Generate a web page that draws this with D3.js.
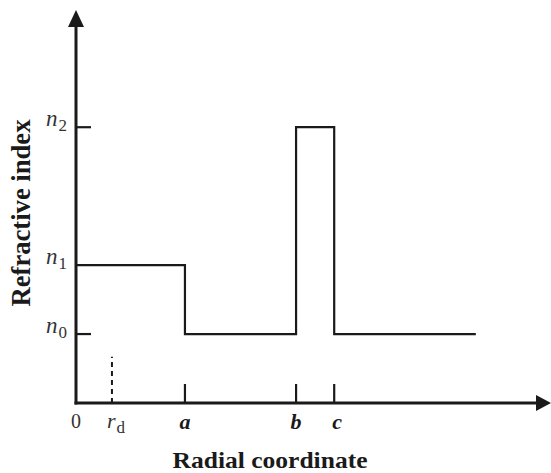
<!DOCTYPE html>
<html>
<head>
<meta charset="utf-8">
<script src="https://cdn.jsdelivr.net/npm/d3@7/dist/d3.min.js"></script>
<style>
  body { margin: 0; background: #fff; }
  svg text { font-family: "Liberation Serif", "Times New Roman", serif; }
</style>
</head>
<body>
<svg id="chart" width="551" height="473"></svg>
<script>
// radial positions (a = 1 unit)
var radii = [0, 1, 2.02, 2.37, 3.67];       // 0, a, b, c, end of profile
var indexValues = [2, 1, 4, 1, 1];          // n1 core, n0, n2 ring, n0 cladding
var rdPos = 0.33, rdHeight = 0.67;

// tick labels
var xMarks = [{ v: 1, name: "a" }, { v: 2.02, name: "b" }, { v: 2.37, name: "c" }];
var yMarks = [{ v: 4, sub: "2", tick: true }, { v: 2, sub: "1", tick: false }, { v: 1, sub: "0", tick: true }];

var svg = d3.select("#chart");

var x = d3.scaleLinear().domain([0, 4.36]).range([76, 551]);
var y = d3.scaleLinear().domain([0, 5.7]).range([403, 10]);

var ink = "#1a1a1a";

// axes
svg.append("line")
    .attr("x1", x(0)).attr("x2", x(0))
    .attr("y1", y(0) + 1.5).attr("y2", y(5.7) + 14)
    .attr("stroke", ink).attr("stroke-width", 3);
svg.append("path")
    .attr("d", "M" + x(0) + "," + y(5.7) + " L" + (x(0) - 8) + "," + (y(5.7) + 17) + " L" + (x(0) + 8) + "," + (y(5.7) + 17) + "Z")
    .attr("fill", ink);

svg.append("line")
    .attr("x1", x(0) - 1.5).attr("x2", x(4.36) - 12)
    .attr("y1", y(0)).attr("y2", y(0))
    .attr("stroke", ink).attr("stroke-width", 3);
svg.append("path")
    .attr("d", "M" + x(4.36) + "," + y(0) + " L" + (x(4.36) - 15) + "," + (y(0) - 8) + " L" + (x(4.36) - 15) + "," + (y(0) + 8) + "Z")
    .attr("fill", ink);

// profile
var pts = radii.map(function(r, i) { return [r, indexValues[i]]; });
var line = d3.line()
    .x(function(d) { return x(d[0]); })
    .y(function(d) { return y(d[1]); })
    .curve(d3.curveStepAfter);

svg.append("path")
    .attr("d", line(pts))
    .attr("fill", "none")
    .attr("stroke", ink)
    .attr("stroke-width", 2.2);

// x ticks
svg.selectAll(".xtick")
    .data(xMarks)
    .enter().append("line")
    .attr("class", "xtick")
    .attr("x1", d => x(d.v)).attr("x2", d => x(d.v))
    .attr("y1", y(0)).attr("y2", y(0) - 19)
    .attr("stroke", ink).attr("stroke-width", 2.2);

svg.selectAll(".xlab")
    .data(xMarks)
    .enter().append("text")
    .attr("class", "xlab")
    .attr("x", d => x(d.v) + (d.name === "c" ? 3 : 0))
    .attr("y", 429)
    .attr("text-anchor", "middle")
    .attr("font-size", 22)
    .attr("font-weight", "bold")
    .attr("font-style", "italic")
    .attr("fill", ink)
    .text(d => d.name);

// rd dashed marker
svg.append("line")
    .attr("x1", x(rdPos)).attr("x2", x(rdPos))
    .attr("y1", y(0)).attr("y2", y(rdHeight))
    .attr("stroke", ink).attr("stroke-width", 2)
    .attr("stroke-dasharray", "5,4");

// "0" and r_d labels
svg.append("text")
    .attr("x", x(0)).attr("y", 428)
    .attr("text-anchor", "middle")
    .attr("font-size", 20)
    .attr("fill", "#333")
    .text("0");

var rd = svg.append("text")
    .attr("x", x(rdPos) - 5).attr("y", 428)
    .attr("font-size", 22)
    .attr("fill", "#333");
rd.append("tspan").attr("font-style", "italic").text("r");
rd.append("tspan").attr("font-size", 17).attr("dy", 5).attr("dx", 1).text("d");

// y ticks and n labels
svg.selectAll(".ytick")
    .data(yMarks.filter(d => d.tick))
    .enter().append("line")
    .attr("class", "ytick")
    .attr("x1", x(0)).attr("x2", x(0) + 15)
    .attr("y1", d => y(d.v)).attr("y2", d => y(d.v))
    .attr("stroke", ink).attr("stroke-width", 2.2);

var nl = svg.selectAll(".ylab")
    .data(yMarks)
    .enter().append("text")
    .attr("class", "ylab")
    .attr("x", 46)
    .attr("y", d => y(d.v) - 1)
    .attr("font-size", 23)
    .attr("fill", "#333");
nl.append("tspan").attr("font-style", "italic").text("n");
nl.append("tspan").attr("font-size", 17).attr("dy", 5).attr("dx", 1).text(d => d.sub);

// axis titles
svg.append("text")
    .attr("x", 270).attr("y", 468)
    .attr("text-anchor", "middle")
    .attr("font-size", 23)
    .attr("font-weight", "bold")
    .attr("textLength", 195)
    .attr("lengthAdjust", "spacingAndGlyphs")
    .attr("fill", ink)
    .text("Radial coordinate");

svg.append("text")
    .attr("transform", "translate(30,213) scale(1.15,1) rotate(-90)")
    .attr("text-anchor", "middle")
    .attr("font-size", 24)
    .attr("font-weight", "bold")
    .attr("textLength", 187)
    .attr("lengthAdjust", "spacingAndGlyphs")
    .attr("fill", ink)
    .text("Refractive index");
</script>
</body>
</html>
